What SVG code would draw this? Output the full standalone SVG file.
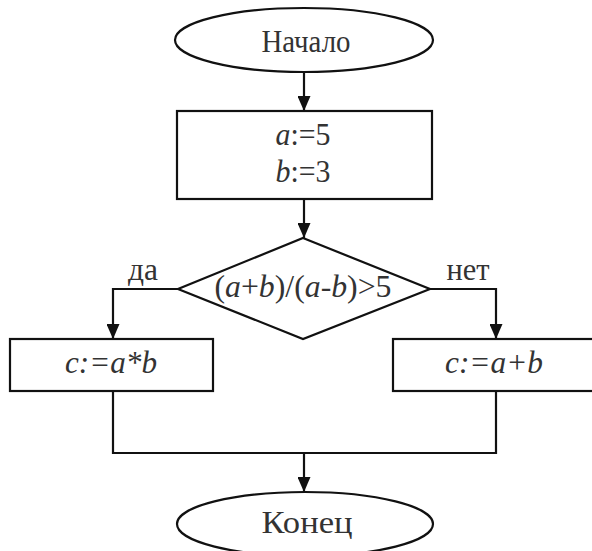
<svg xmlns="http://www.w3.org/2000/svg" width="592" height="551" viewBox="0 0 592 551">
<defs>
<style>
.s{fill:#fff;stroke:#111;stroke-width:2.2}
.c{fill:none;stroke:#111;stroke-width:2.2}
.t{font-family:'Liberation Serif','Times New Roman',serif;font-size:31px;fill:#333;text-anchor:middle}
.i{font-style:italic}
</style>
<marker id="ah" viewBox="0 0 15 13" refX="15" refY="6.5" markerWidth="15" markerHeight="13" markerUnits="userSpaceOnUse" orient="auto">
<path d="M0,0 L15,6.5 L0,13 Z" fill="#111"/>
</marker>
</defs>
<rect width="592" height="551" fill="#fff"/>
<g id="connectors">
<line class="c" x1="304" y1="72" x2="304" y2="111" marker-end="url(#ah)"/>
<line class="c" x1="304" y1="199" x2="304" y2="238" marker-end="url(#ah)"/>
<polyline class="c" points="178,289 113,289 113,339" marker-end="url(#ah)"/>
<polyline class="c" points="430,289 496,289 496,339" marker-end="url(#ah)"/>
<polyline class="c" points="113,391 113,453 496,453 496,391"/>
<line class="c" x1="304" y1="453" x2="304" y2="492" marker-end="url(#ah)"/>
<text class="t" x="143" y="280" textLength="30" lengthAdjust="spacingAndGlyphs">да</text>
<text class="t" x="468" y="280" textLength="43" lengthAdjust="spacingAndGlyphs">нет</text>
</g>
<g id="start">
<ellipse class="s" cx="304" cy="40" rx="129" ry="32"/>
<text class="t" x="306" y="52" textLength="89" lengthAdjust="spacingAndGlyphs">Начало</text>
</g>
<g id="assign">
<rect class="s" x="177" y="111" width="255" height="88"/>
<text class="t" x="303" y="145" textLength="55" lengthAdjust="spacingAndGlyphs"><tspan class="i">a</tspan>:=5</text>
<text class="t" x="303" y="182" textLength="55" lengthAdjust="spacingAndGlyphs"><tspan class="i">b</tspan>:=3</text>
</g>
<g id="cond">
<polygon class="s" points="303,238 430,289 303,339 178,289"/>
<text class="t" x="303" y="297" textLength="177" lengthAdjust="spacingAndGlyphs">(<tspan class="i">a</tspan>+<tspan class="i">b</tspan>)/(<tspan class="i">a</tspan>-<tspan class="i">b</tspan>)&gt;5</text>
</g>
<g id="mul">
<rect class="s" x="10" y="339" width="203" height="52"/>
<text class="t i" x="111" y="373" textLength="92" lengthAdjust="spacingAndGlyphs">c:=a*b</text>
</g>
<g id="add">
<rect class="s" x="393" y="339" width="215" height="52"/>
<text class="t i" x="494" y="373" textLength="98" lengthAdjust="spacingAndGlyphs">c:=a+b</text>
</g>
<g id="end">
<ellipse class="s" cx="305" cy="524" rx="128" ry="32"/>
<text class="t" x="307" y="533" textLength="91" lengthAdjust="spacingAndGlyphs">Конец</text>
</g>
</svg>
